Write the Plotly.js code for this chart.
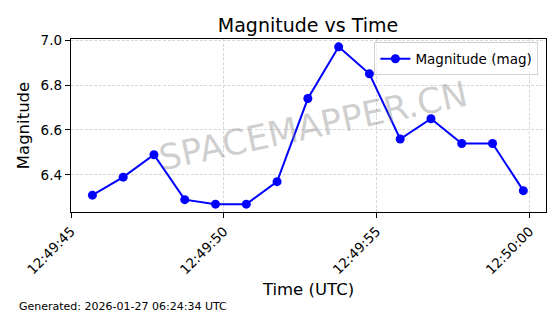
<!DOCTYPE html>
<html>
<head>
<meta charset="utf-8">
<script src="https://cdn.plot.ly/plotly-3.0.1.min.js"></script>
<style>html,body{margin:0;padding:0;background:#fff;}#chart{width:560px;height:314px;}</style>
</head>
<body>
<div id="chart"></div>
<script>
const times = [
  '2026-01-27 12:49:45.700', '2026-01-27 12:49:46.707', '2026-01-27 12:49:47.714',
  '2026-01-27 12:49:48.721', '2026-01-27 12:49:49.728', '2026-01-27 12:49:50.735',
  '2026-01-27 12:49:51.742', '2026-01-27 12:49:52.749', '2026-01-27 12:49:53.756',
  '2026-01-27 12:49:54.763', '2026-01-27 12:49:55.770', '2026-01-27 12:49:56.777',
  '2026-01-27 12:49:57.784', '2026-01-27 12:49:58.791', '2026-01-27 12:49:59.798'
];
const magnitudes = [6.31, 6.39, 6.49, 6.29, 6.27, 6.27, 6.37, 6.74, 6.97, 6.85, 6.56, 6.65, 6.54, 6.54, 6.33];
const yTicks = [6.4, 6.6, 6.8, 7.0];
const xRange = ['2026-01-27 12:49:45', '2026-01-27 12:50:00.54'];
const yRange = [6.235, 7.005];

const font = 'DejaVu Sans, sans-serif';

const trace = {
  x: times, y: magnitudes, type: 'scatter', mode: 'lines+markers',
  name: 'Magnitude (mag)',
  line: {color: '#0000ff', width: 2},
  marker: {color: '#0000ff', size: 9}
};

const layout = {
  width: 560, height: 314,
  margin: {l: 71, r: 14, t: 39, b: 102},
  paper_bgcolor: '#fff', plot_bgcolor: '#fff',
  font: {family: font, color: '#000'},
  title: {text: 'Magnitude vs Time', font: {family: font, size: 19, color: '#000'}, x: 0.55, xanchor: 'center', y: 0.918, yanchor: 'middle'},
  xaxis: {
    type: 'date', range: xRange, tickformat: '%H:%M:%S',
    tick0: '2026-01-27 12:49:45', dtick: 5000, tickangle: -45,
    tickfont: {family: font, size: 13.5, color: '#000'},
    showgrid: true, gridcolor: '#cfcfcf', griddash: '3px,1.6px', gridwidth: 0.8,
    showline: true, linecolor: '#000', linewidth: 1.2, mirror: true,
    ticks: 'outside', ticklen: 5, tickcolor: '#000', zeroline: false,
    title: {text: 'Time (UTC)', font: {family: font, size: 16.5, color: '#000'}, standoff: 7}
  },
  yaxis: {
    range: yRange, tickvals: yTicks, tickformat: '.1f',
    tickfont: {family: font, size: 13.5, color: '#000'},
    showgrid: true, gridcolor: '#cfcfcf', griddash: '3px,1.6px', gridwidth: 0.8,
    showline: true, linecolor: '#000', linewidth: 1.2, mirror: true,
    ticks: 'outside', ticklen: 5, tickcolor: '#000', zeroline: false,
    title: {text: 'Magnitude', font: {family: font, size: 16.5, color: '#000'}, standoff: 6}
  },
  showlegend: true,
  legend: {
    x: 0.984, y: 0.98, xanchor: 'right', yanchor: 'top',
    bgcolor: 'rgba(255,255,255,0.6)', bordercolor: '#d0d0d0', borderwidth: 1,
    font: {family: font, size: 13.5, color: '#000'}, itemwidth: 30
  },
  annotations: [
    {text: 'SPACEMAPPER.CN', xref: 'paper', yref: 'paper', x: 0.51, y: 0.50,
     showarrow: false, textangle: -12, font: {family: font, size: 35, color: 'rgba(128,128,128,0.38)'}},
    {text: 'Generated: 2026-01-27 06:24:34 UTC', xref: 'paper', yref: 'paper',
     x: -0.114, y: -0.545, xanchor: 'left', yanchor: 'middle', showarrow: false,
     font: {family: font, size: 11, color: '#000'}}
  ]
};

Plotly.newPlot('chart', [trace], layout, {displayModeBar: false, staticPlot: true});
</script>
</body>
</html>
